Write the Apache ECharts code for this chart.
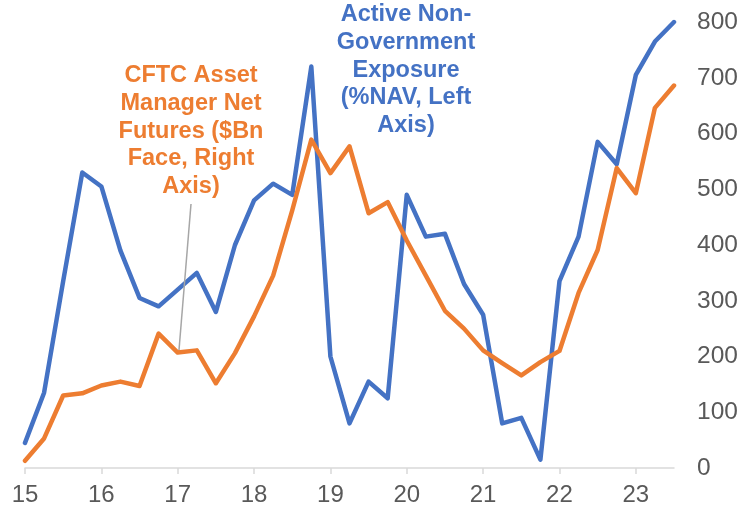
<!DOCTYPE html>
<html>
<head>
<meta charset="utf-8">
<script src="https://cdn.jsdelivr.net/npm/echarts@6/dist/echarts.min.js"></script>
<style>
  html, body { margin: 0; padding: 0; background: #fff; }
  #chart { width: 747px; height: 509px; }
</style>
</head>
<body>
<div id="chart"></div>
<script>
// Quarterly observations, 2015 Q1 to 2023 Q3
const quarters = [
  '2015Q1','2015Q2','2015Q3','2015Q4','2016Q1','2016Q2','2016Q3','2016Q4',
  '2017Q1','2017Q2','2017Q3','2017Q4','2018Q1','2018Q2','2018Q3','2018Q4',
  '2019Q1','2019Q2','2019Q3','2019Q4','2020Q1','2020Q2','2020Q3','2020Q4',
  '2021Q1','2021Q2','2021Q3','2021Q4','2022Q1','2022Q2','2022Q3','2022Q4',
  '2023Q1','2023Q2','2023Q3'
];

// Year tick labels shown under the first quarter of each year
const yearLabels = ['15','16','17','18','19','20','21','22','23'];

// Active non-government exposure, %NAV (left axis)
const activeExposure = [
  0.9, 2.7, 6.7, 10.6, 10.1, 7.8, 6.1, 5.8,
  6.4, 7.0, 5.6, 8.0, 9.6, 10.2, 9.8, 14.4,
  4.0, 1.6, 3.1, 2.5, 9.8, 8.3, 8.4, 6.6,
  5.5, 1.6, 1.8, 0.3, 6.7, 8.3, 11.7, 10.9,
  14.1, 15.3, 16.0
];

// CFTC asset manager net futures, $Bn face (right axis)
const cftcNetFutures = [
  13, 53, 130, 134, 148, 155, 147, 241,
  207, 211, 152, 206, 272, 345, 462, 589,
  529, 577, 457, 477, 408, 345, 282, 250,
  211, 188, 166, 190, 210, 314, 391, 538,
  493, 646, 686
];

const rightTicks = { min: 0, max: 800, interval: 100 };
const leftTicks = { min: 0, max: 16, interval: 2 };

const BLUE = '#4472C4';
const ORANGE = '#ED7D31';
const FONT = '"Liberation Sans", Arial, sans-serif';

const chart = echarts.init(document.getElementById('chart'), null, { renderer: 'canvas' });

const isYearStart = (idx) => idx % 4 === 0;

chart.setOption({
  animation: false,
  backgroundColor: '#ffffff',
  grid: { left: 25, right: 73, top: 22, bottom: 41, containLabel: false },
  xAxis: {
    type: 'category',
    data: quarters,
    boundaryGap: false,
    axisLine: { lineStyle: { color: '#d9d9d9', width: 1.5 } },
    axisTick: { show: true, length: 6, interval: (idx) => isYearStart(idx), lineStyle: { color: '#d9d9d9', width: 1.5 } },
    axisLabel: {
      interval: (idx) => isYearStart(idx),
      formatter: (val, idx) => yearLabels[idx / 4],
      color: '#595959',
      fontFamily: FONT,
      fontSize: 24,
      margin: 15
    },
    splitLine: { show: false }
  },
  yAxis: [
    {
      type: 'value',
      position: 'left',
      min: leftTicks.min, max: leftTicks.max, interval: leftTicks.interval,
      axisLine: { show: false },
      axisTick: { show: false },
      axisLabel: { show: false },
      splitLine: { show: false }
    },
    {
      type: 'value',
      position: 'right',
      min: rightTicks.min, max: rightTicks.max, interval: rightTicks.interval,
      axisLine: { show: false },
      axisTick: { show: false },
      axisLabel: {
        color: '#595959',
        fontFamily: FONT,
        fontSize: 24.5,
        margin: 23,
        align: 'left'
      },
      splitLine: { show: false }
    }
  ],
  series: [
    {
      name: 'Active Non-Government Exposure',
      type: 'line',
      yAxisIndex: 0,
      data: activeExposure,
      symbol: 'none',
      lineStyle: { color: BLUE, width: 4.5, join: 'round', cap: 'round' },
      itemStyle: { color: BLUE },
      z: 3
    },
    {
      name: 'CFTC Asset Manager Net Futures',
      type: 'line',
      yAxisIndex: 1,
      data: cftcNetFutures,
      symbol: 'none',
      lineStyle: { color: ORANGE, width: 4.5, join: 'round', cap: 'round' },
      itemStyle: { color: ORANGE },
      z: 4
    }
  ],
  graphic: [
    {
      type: 'line',
      shape: { x1: 191, y1: 204, x2: 179, y2: 350 },
      style: { stroke: '#a6a6a6', lineWidth: 1.5 },
      z: 10
    },
    {
      type: 'text',
      x: 191, y: 62,
      style: {
        text: 'CFTC Asset\nManager Net\nFutures ($Bn\nFace, Right\nAxis)',
        fill: ORANGE,
        font: 'bold 23.5px ' + FONT,
        lineHeight: 27.7,
        align: 'center',
        verticalAlign: 'top'
      },
      z: 10
    },
    {
      type: 'text',
      x: 406, y: 1,
      style: {
        text: 'Active Non-\nGovernment\nExposure\n(%NAV, Left\nAxis)',
        fill: BLUE,
        font: 'bold 23.5px ' + FONT,
        lineHeight: 27.7,
        align: 'center',
        verticalAlign: 'top'
      },
      z: 10
    }
  ]
});
</script>
</body>
</html>
